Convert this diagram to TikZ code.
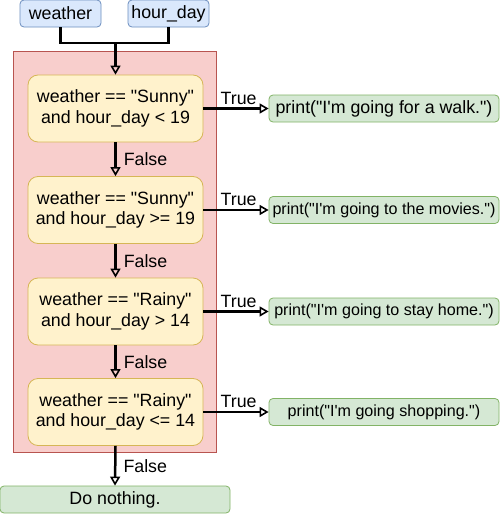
\documentclass[tikz,border=0pt]{standalone}
\usepackage{fontspec}
\setmainfont[Ligatures=TeXOff]{Liberation Sans}
\usetikzlibrary{arrows.meta}
\definecolor{bluefill}{HTML}{DAE8FC}
\definecolor{blueline}{HTML}{6C8EBF}
\definecolor{redfill}{HTML}{F8CECC}
\definecolor{redline}{HTML}{B85450}
\definecolor{yelfill}{HTML}{FFF2CC}
\definecolor{yelline}{HTML}{D6B656}
\definecolor{grnfill}{HTML}{D5E8D4}
\definecolor{grnline}{HTML}{82B366}
\tikzset{
  x=1pt, y=-1pt,
  every node/.style={font=\fontsize{17.8}{20.5}\selectfont, inner sep=0pt, align=center},
  varbox/.style={draw=blueline, fill=bluefill, rounded corners=4pt, minimum width=81pt, minimum height=27pt, line width=0.8pt},
  condbox/.style={draw=yelline, fill=yelfill, rounded corners=10pt, minimum width=175pt, minimum height=67pt, line width=0.8pt},
  outbox/.style={draw=grnline, fill=grnfill, rounded corners=4pt, minimum width=230pt, minimum height=27pt, line width=0.8pt},
  smalltext/.style={font=\fontsize{16.1}{19}\selectfont},
  flow/.style={line width=2.5pt, -{Triangle[open, length=9pt, width=10pt, line width=1.6pt]}},
  plain/.style={line width=2.5pt},
  lbl/.style={anchor=south west}
}
\begin{document}
\begin{tikzpicture}
\useasboundingbox (0,0) rectangle (500,514);
\fill[white] (0,0) rectangle (500,514);
\node[draw=redline, fill=redfill, line width=0.8pt, minimum width=203pt, minimum height=401pt] (bg) at (114.5,251.5) {};
\node[varbox] (w) at (60.5,13.5) {weather};
\node[varbox] (h) at (168.5,13.5) {hour\_day};
\coordinate (j) at (115.5,43);
\node[condbox] (c1) at (115.5,108.5) {weather == "Sunny"\\and hour\_day < 19};
\node[condbox] (c2) at (115.5,210) {weather == "Sunny"\\and hour\_day >= 19};
\node[condbox] (c3) at (115.5,311.5) {weather == "Rainy"\\and hour\_day > 14};
\node[condbox] (c4) at (115.5,412) {weather == "Rainy"\\and hour\_day <= 14};
\node[outbox] (o1) at (384,108.5) {print("I'm going for a walk.")};
\node[outbox, smalltext] (o2) at (384,210) {print("I'm going to the movies.")};
\node[outbox, smalltext] (o3) at (384,311.5) {print("I'm going to stay home.")};
\node[outbox, smalltext] (o4) at (384,412) {print("I'm going shopping.")};
\node[outbox] (dn) at (115,499.5) {Do nothing.};
\draw[plain, line join=miter] (w.south) |- (j) -| (h.south);
\draw[flow] (j) -- (c1.north);
\draw[flow] (c1.south) -- node[right=7pt] {False} (c2.north);
\draw[flow] (c2.south) -- node[right=7pt] {False} (c3.north);
\draw[flow] (c3.south) -- node[right=7pt] {False} (c4.north);
\draw[flow] (c4.south) -- node[right=7pt] {False} (dn.north);
\draw[flow] (c1.east) -- node[pos=0, lbl, xshift=16pt, yshift=3pt] {True} (o1.west);
\draw[flow] (c2.east) -- node[pos=0, lbl, xshift=16pt, yshift=3pt] {True} (o2.west);
\draw[flow] (c3.east) -- node[pos=0, lbl, xshift=16pt, yshift=3pt] {True} (o3.west);
\draw[flow] (c4.east) -- node[pos=0, lbl, xshift=16pt, yshift=3pt] {True} (o4.west);
\end{tikzpicture}
\end{document}
